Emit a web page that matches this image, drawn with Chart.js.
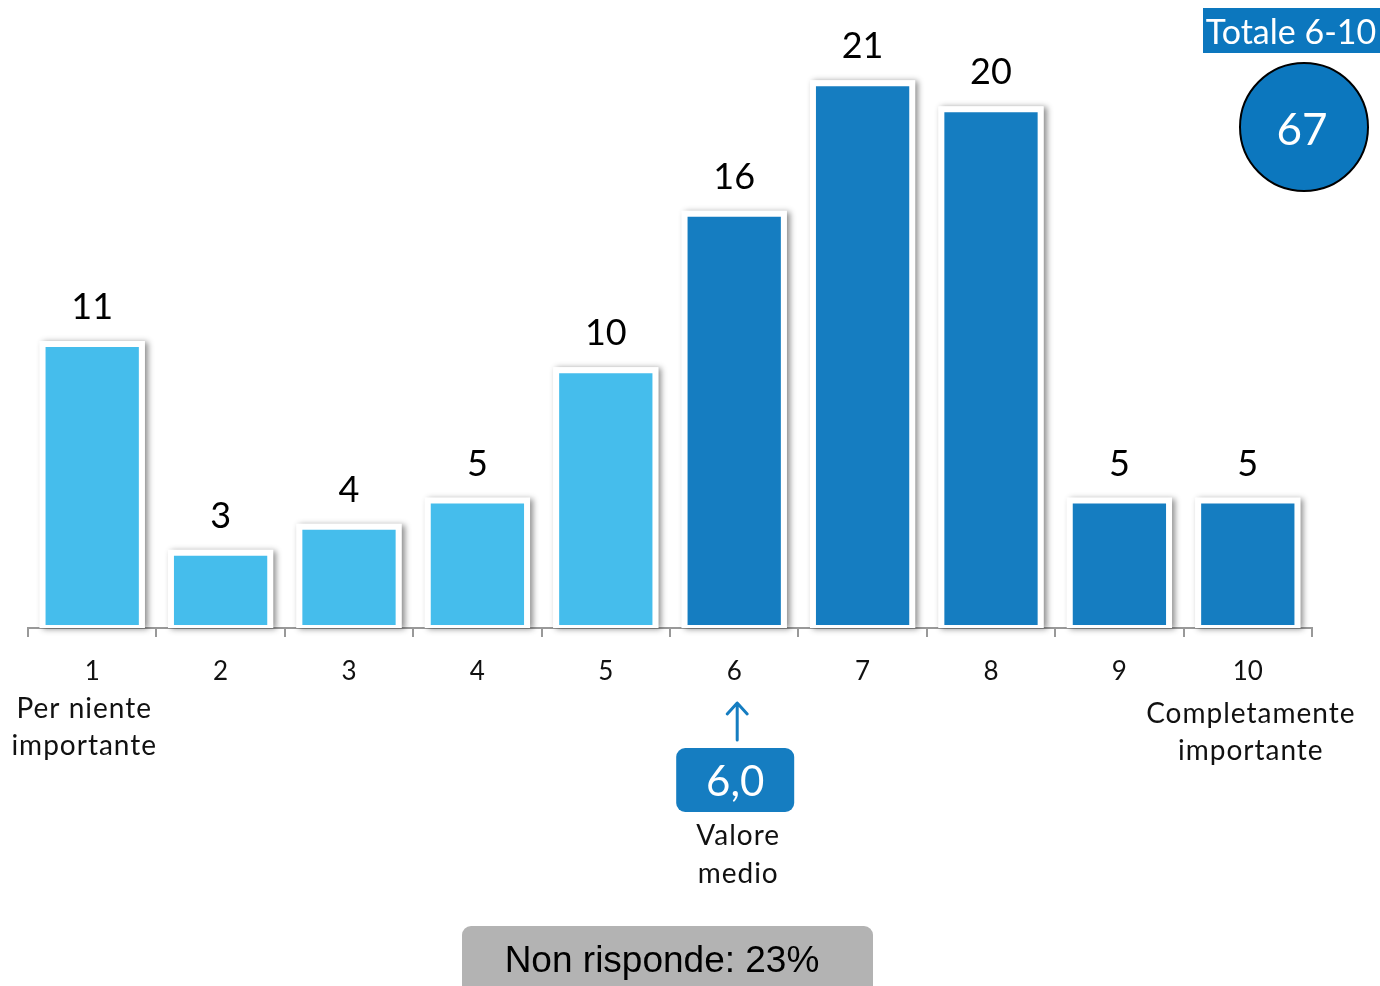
<!DOCTYPE html>
<html lang="it">
<head>
<meta charset="UTF-8">
<title>Importanza</title>
<script src="https://cdn.jsdelivr.net/npm/chart.js"></script>
<style>
  body { margin: 0; background: #fff; }
  #chart { display: block; }
</style>
</head>
<body>
<canvas id="chart" width="1380" height="986"></canvas>
<script>
// dati
const categories = ['1', '2', '3', '4', '5', '6', '7', '8', '9', '10'];
const values = [11, 3, 4, 5, 10, 16, 21, 20, 5, 5];
const lowEnd = ['Per niente', 'importante'];
const highEnd = ['Completamente', 'importante'];
const meanValue = 6.0;
const totalLabel = 'Totale 6-10';
const totalValue = 67;
const noAnswer = 'Non risponde: 23%';

const light = '#45BDEC';
const dark = '#157DC1';
const font = 'Lato, "Open Sans", sans-serif';

function roundRect(ctx, x, y, w, h, r) {
  ctx.beginPath();
  ctx.moveTo(x + r, y);
  ctx.arcTo(x + w, y, x + w, y + h, r);
  ctx.arcTo(x + w, y + h, x, y + h, r);
  ctx.arcTo(x, y + h, x, y, r);
  ctx.arcTo(x, y, x + w, y, r);
  ctx.closePath();
}

// ombra sotto le barre
const shadowPlugin = {
  id: 'barShadow',
  beforeDatasetsDraw(chart) {
    const ctx = chart.ctx;
    ctx.save();
    ctx.shadowColor = 'rgba(0,0,0,0.45)';
    ctx.shadowBlur = 6;
    ctx.shadowOffsetX = 3;
    ctx.shadowOffsetY = 1;
    ctx.fillStyle = '#fff';
    chart.getDatasetMeta(0).data.forEach(b => {
      ctx.fillRect(b.x - b.width / 2, b.y, b.width, b.base - b.y);
    });
    ctx.restore();
  }
};

const extrasPlugin = {
  id: 'extras',
  afterDraw(chart) {
    const ctx = chart.ctx;
    const xs = chart.scales.x;
    ctx.save();

    // valori sopra le barre
    ctx.fillStyle = '#000';
    ctx.font = '36px ' + font;
    ctx.textAlign = 'center';
    ctx.textBaseline = 'alphabetic';
    chart.getDatasetMeta(0).data.forEach((b, i) => {
      ctx.fillText(String(values[i]), b.x, b.y - 22);
    });

    // etichette estreme
    ctx.font = '28px ' + font;
    ctx.fillStyle = '#111';
    ctx.textBaseline = 'middle';
    ctx.letterSpacing = '1px';
    const x0 = xs.getPixelForValue(0) - 8;
    ctx.fillText(lowEnd[0], x0, 709);
    ctx.fillText(lowEnd[1], x0, 746);
    const x9 = xs.getPixelForValue(9) + 3;
    ctx.fillText(highEnd[0], x9, 714);
    ctx.fillText(highEnd[1], x9, 751);

    // valore medio
    const mx = xs.getPixelForValue(meanValue - 1) + 3;
    ctx.fillText('Valore', mx + 1, 836);
    ctx.fillText('medio', mx + 1, 874);
    ctx.letterSpacing = '0px';
    ctx.strokeStyle = dark;
    ctx.lineWidth = 3;
    ctx.lineCap = 'round';
    ctx.lineJoin = 'round';
    ctx.beginPath();
    ctx.moveTo(mx, 740);
    ctx.lineTo(mx, 703);
    ctx.moveTo(mx - 10, 714);
    ctx.lineTo(mx, 703);
    ctx.lineTo(mx + 10, 714);
    ctx.stroke();
    ctx.fillStyle = dark;
    roundRect(ctx, mx - 61, 748, 118, 64, 9);
    ctx.fill();
    ctx.fillStyle = '#fff';
    ctx.font = '42px ' + font;
    ctx.fillText(meanValue.toFixed(1).replace('.', ','), mx - 2, 782);

    // totale 6-10
    ctx.fillStyle = '#0C77BE';
    ctx.fillRect(1203, 8, 177, 45);
    ctx.fillStyle = '#fff';
    ctx.font = '34px ' + font;
    ctx.fillText(totalLabel, 1291, 33);
    ctx.beginPath();
    ctx.arc(1304, 127, 64, 0, Math.PI * 2);
    ctx.fillStyle = '#0C77BE';
    ctx.fill();
    ctx.lineWidth = 2;
    ctx.strokeStyle = '#000';
    ctx.stroke();
    ctx.fillStyle = '#fff';
    ctx.font = '44px ' + font;
    ctx.fillText(String(totalValue), 1302, 131);

    // non risponde
    ctx.fillStyle = '#B3B3B3';
    roundRect(ctx, 462, 926, 411, 80, 9);
    ctx.fill();
    ctx.fillStyle = '#000';
    ctx.font = '37px "Liberation Sans", Arial, sans-serif';
    ctx.fillText(noAnswer, 662, 962);

    ctx.restore();
  }
};

new Chart(document.getElementById('chart'), {
  type: 'bar',
  data: {
    labels: categories,
    datasets: [{
      data: values,
      backgroundColor: values.map((v, i) => i < 5 ? light : dark),
      borderColor: '#fff',
      borderWidth: { top: 6, left: 6, right: 6, bottom: 3 },
      borderSkipped: false,
      barPercentage: 0.82,
      categoryPercentage: 1
    }]
  },
  options: {
    responsive: false,
    animation: false,
    layout: { padding: { top: 2, left: 28, right: 68, bottom: 0 } },
    plugins: { legend: { display: false }, tooltip: { enabled: false } },
    scales: {
      x: {
        afterFit(s) { s.height = 358; },
        grid: { drawOnChartArea: false, drawTicks: true, tickLength: 9, color: '#999', lineWidth: 2 },
        border: { display: true, color: '#999', width: 2 },
        ticks: { color: '#111', font: { family: font, size: 26 }, padding: 19 }
      },
      y: { display: false, min: 0, max: 24 }
    }
  },
  plugins: [shadowPlugin, extrasPlugin]
});
</script>
</body>
</html>
